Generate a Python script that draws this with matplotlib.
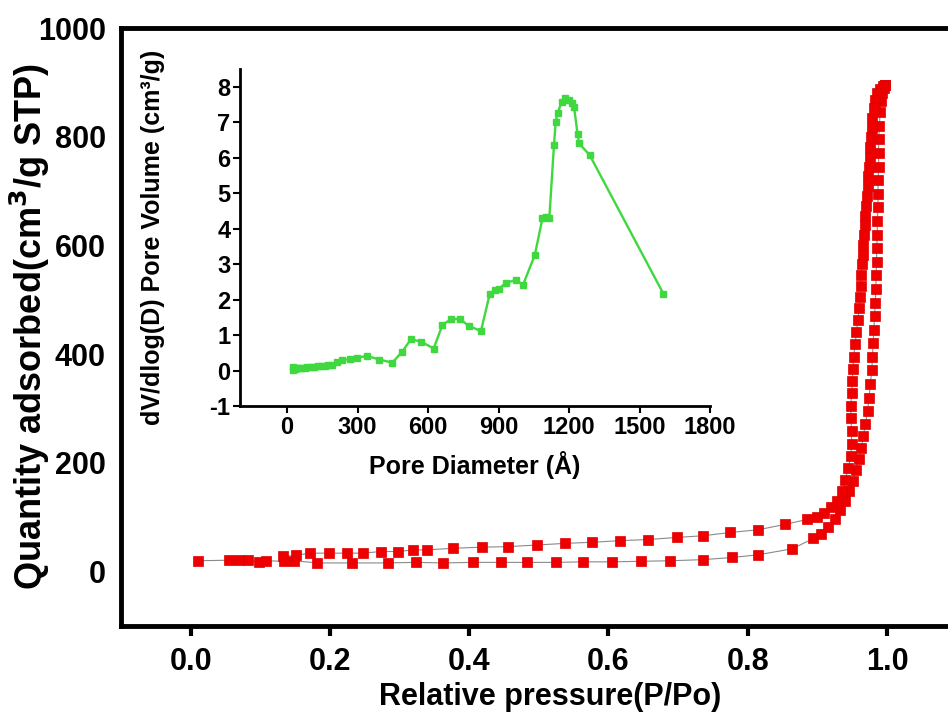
import matplotlib
matplotlib.use("Agg")
import matplotlib.pyplot as plt

plt.rcParams['font.family'] = ['Liberation Sans', 'DejaVu Sans']
plt.rcParams['font.weight'] = 'bold'
plt.rcParams['axes.unicode_minus'] = False

# N2 isotherm, adsorption branch (P/Po, cm3/g STP)
ads_p = [0.011, 0.055, 0.069, 0.083, 0.098, 0.108, 0.134, 0.148, 0.182, 0.232,
         0.283, 0.323, 0.363, 0.405, 0.445, 0.483, 0.524, 0.564, 0.605, 0.646,
         0.689, 0.735, 0.778, 0.815, 0.864, 0.894, 0.905, 0.915, 0.925, 0.933,
         0.940, 0.946, 0.951, 0.955, 0.959, 0.963, 0.966, 0.969, 0.972, 0.974,
         0.976, 0.978, 0.979, 0.980, 0.981, 0.982, 0.983, 0.984, 0.984, 0.985,
         0.985, 0.986, 0.986, 0.987, 0.987, 0.987, 0.988, 0.988, 0.988, 0.989,
         0.990, 0.991, 0.993, 0.995, 0.997]
ads_q = [20, 21, 21, 21, 18, 20, 19, 20, 16, 16,
         16, 17, 16, 17, 17, 17, 17, 18, 18, 19,
         20, 22, 26, 31, 42, 61, 70, 82, 97, 113,
         130, 148, 167, 187, 207, 228, 250, 272, 296, 320,
         345, 370, 395, 420, 445, 470, 495, 520, 545, 570,
         595, 620, 645, 670, 695, 720, 745, 770, 795, 820,
         845, 865, 880, 890, 895]

# desorption branch
des_p = [0.997, 0.994, 0.990, 0.986, 0.983, 0.981, 0.979, 0.978, 0.977, 0.976,
         0.975, 0.974, 0.973, 0.972, 0.971, 0.970, 0.969, 0.968, 0.967, 0.966,
         0.965, 0.964, 0.963, 0.962, 0.961, 0.960, 0.958, 0.956, 0.954, 0.952,
         0.951, 0.950, 0.949, 0.948, 0.948, 0.949, 0.949, 0.948, 0.944, 0.940,
         0.935, 0.928, 0.920, 0.910, 0.900, 0.885, 0.854, 0.815, 0.775, 0.736,
         0.699, 0.657, 0.617, 0.577, 0.538, 0.498, 0.456, 0.419, 0.377, 0.340,
         0.320, 0.298, 0.273, 0.248, 0.225, 0.198, 0.172, 0.151, 0.133]
des_q = [895, 893, 888, 880, 868, 852, 835, 817, 799, 781,
         763, 745, 727, 709, 691, 673, 655, 637, 619, 601,
         583, 565, 545, 525, 505, 485, 462, 440, 418, 395,
         372, 350, 328, 305, 282, 258, 235, 212, 190, 168,
         148, 130, 118, 108, 101, 96, 87, 77, 72, 66,
         63, 59, 57, 54, 52, 49, 46, 45, 43, 40,
         40, 37, 37, 34, 34, 34, 34, 30, 28]

# pore size distribution (inset)
pore_d = [24, 27, 35, 42, 52, 64, 75, 87, 100, 116, 130, 146, 160, 176, 191,
          213, 236, 266, 296, 340, 393, 448, 490, 527, 572, 624, 661, 698, 736,
          773, 825, 863, 885, 900, 930, 975, 1004, 1054, 1087, 1101, 1116, 1136,
          1143, 1151, 1169, 1184, 1198, 1213, 1221, 1236, 1243, 1288, 1601]
pore_v = [0.01, 0.10, 0.05, 0.06, 0.07, 0.06, 0.08, 0.09, 0.10, 0.10, 0.12,
          0.13, 0.14, 0.15, 0.15, 0.25, 0.29, 0.32, 0.36, 0.41, 0.31, 0.22,
          0.53, 0.88, 0.81, 0.62, 1.28, 1.45, 1.45, 1.26, 1.11, 2.17, 2.27,
          2.29, 2.47, 2.55, 2.41, 3.25, 4.29, 4.32, 4.29, 6.36, 7.01, 7.25,
          7.58, 7.67, 7.62, 7.55, 7.44, 6.68, 6.40, 6.07, 2.17]

x_ticks = [0.0, 0.2, 0.4, 0.6, 0.8, 1.0]
y_ticks = [0, 200, 400, 600, 800, 1000]
d_ticks = [0, 300, 600, 900, 1200, 1500, 1800]
v_ticks = [-1, 0, 1, 2, 3, 4, 5, 6, 7, 8]

fig = plt.figure(figsize=(9.48, 7.15), dpi=100)

# main isotherm
ax = fig.add_axes([0.1276, 0.1245, 0.8816, 0.8363])
for p, q in [(ads_p, ads_q), (des_p, des_q)]:
    ax.plot(p, q, '-', color='#8a8a8a', lw=0.8, marker='s', ms=7.5,
            mfc='#ee0000', mec='#e00000', mew=0.5)
ax.set_xlim(-0.1, 1.1)
ax.set_ylim(-100, 1000)
ax.set_xticks(x_ticks)
ax.set_xticklabels([f"{v:.1f}" for v in x_ticks])
ax.set_yticks(y_ticks)
ax.tick_params(axis='x', direction='out', length=7, width=3, pad=8, labelsize=22)
ax.tick_params(axis='y', length=0, pad=11, labelsize=22)
for s in ax.spines.values():
    s.set_linewidth(3.5)
ax.set_xlabel("Relative pressure(P/Po)", fontsize=22, fontweight='bold')
ax.xaxis.set_label_coords(0.514, -0.093)
ax.set_ylabel("Quantity adsorbed(cm$^3$/g STP)", fontsize=26, fontweight='bold')
ax.yaxis.set_label_coords(-0.083, 0.5)

# inset: pore size distribution
ins = fig.add_axes([0.2532, 0.4322, 0.4958, 0.4713])
ins.plot(pore_d, pore_v, '-', color='#3fd83f', lw=1.7, marker='s', ms=4,
         mfc='#3fd83f', mec='#3fd83f')
ins.set_xlim(-200, 1800)
ins.set_ylim(-1, 8.5)
ins.set_xticks(d_ticks)
ins.set_yticks(v_ticks)
ins.spines['top'].set_visible(False)
ins.spines['right'].set_visible(False)
for side in ['left', 'bottom']:
    ins.spines[side].set_linewidth(2)
ins.tick_params(direction='out', length=5, width=1.5, pad=2, labelsize=17)
ins.set_xlabel("Pore Diameter (Å)", fontsize=18, fontweight='bold')
ins.xaxis.set_label_coords(0.5, -0.135)
ins.set_ylabel("dV/dlog(D) Pore Volume (cm³/g)", fontsize=18, fontweight='bold')
ins.yaxis.set_label_coords(-0.16, 0.5)

fig.savefig("out.png", dpi=100)
